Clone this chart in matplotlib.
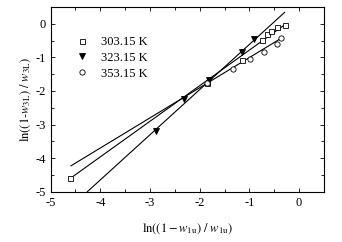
import matplotlib
matplotlib.use("Agg")
import matplotlib.pyplot as plt
import numpy as np

plt.rcParams['font.family'] = ['Liberation Serif', 'DejaVu Serif']
plt.rcParams['mathtext.fontset'] = 'stix'
plt.rcParams['axes.unicode_minus'] = False

# Data
x_303 = [-4.60, -1.85, -1.15, -0.75, -0.645, -0.56, -0.44, -0.29]
y_303 = [-4.60, -1.76, -1.07, -0.47, -0.315, -0.205, -0.085, -0.04]
x_323 = [-2.88, -2.31, -1.815, -1.14, -0.915]
y_323 = [-3.19, -2.24, -1.67, -0.83, -0.456]
x_353 = [-1.85, -1.325, -0.99, -0.706, -0.45, -0.36]
y_353 = [-1.76, -1.36, -1.06, -0.84, -0.60, -0.43]

# fitted lines: (slope, intercept, x_start, x_end)
fit_303 = (1.06, 0.276, -4.60, -0.29)
fit_323 = (1.345, 0.73, -4.26, -0.29)
fit_353 = (0.898, -0.108, -4.59, -0.36)

labels = ['303.15 K', '323.15 K', '353.15 K']

fig = plt.figure(figsize=(3.42, 2.42), dpi=100)
ax = fig.add_axes([0.148, 0.208, 0.799, 0.763])

for fit in (fit_303, fit_323, fit_353):
    s, b, x0, x1 = fit
    xs = np.array([x0, x1])
    ax.plot(xs, s * xs + b, color='black', lw=0.8)

ax.plot(x_303, y_303, ls='none', marker='s', ms=3.6, mfc='white', mec='black', mew=0.6, label=labels[0])
ax.plot(x_323, y_323, ls='none', marker='v', ms=4.5, mfc='black', mec='black', mew=0.6, label=labels[1])
ax.plot(x_353, y_353, ls='none', marker='o', ms=3.8, mfc='white', mec='black', mew=0.6, label=labels[2])

ax.set_xlim(-5, 0.5)
ax.set_ylim(-5, 0.5)
ax.set_xticks([-5, -4, -3, -2, -1, 0])
ax.set_yticks([-5, -4, -3, -2, -1, 0])
ax.set_xticks(np.arange(-4.5, 0.5, 1.0), minor=True)
ax.set_yticks(np.arange(-4.5, 0.5, 1.0), minor=True)
ax.tick_params(direction='in', which='both', top=True, right=True, labelsize=9, width=0.6)
ax.tick_params(which='major', length=3)
ax.tick_params(which='minor', length=2)
for sp in ax.spines.values():
    sp.set_linewidth(0.8)

ax.set_xlabel(r'$\mathrm{ln}((1-w_{\mathrm{1u}})\ /\ w_{\mathrm{1u}})$', fontsize=9, labelpad=9)
ax.set_ylabel(r'$\mathrm{ln}((1\text{-}w_{\mathrm{3L}})\ /\ w_{\mathrm{3L}})$', fontsize=9, labelpad=2)

ax.legend(loc='upper left', bbox_to_anchor=(0.06, 0.89), frameon=False, fontsize=9,
          handlelength=1.0, handletextpad=1.0, labelspacing=0.3, borderpad=0.2)

fig.savefig('out.png', dpi=100)
